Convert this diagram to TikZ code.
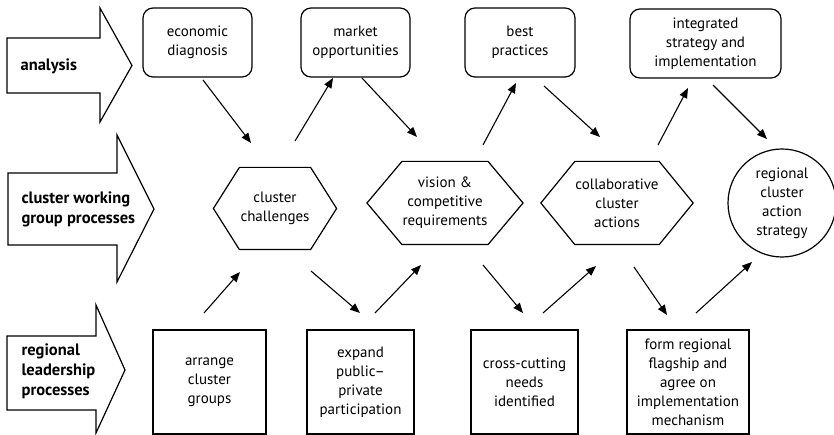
\documentclass[tikz,border=0pt]{standalone}
\usepackage{fontspec}
\setmainfont{PT Sans}
\usetikzlibrary{arrows.meta}
\newcommand\hexframe[2]{%
  \draw (#1.north west) -- (#1.north east) -- ([xshift=#2]#1.east)
    -- (#1.south east) -- (#1.south west) -- ([xshift=-#2]#1.west) -- cycle;}
\begin{document}
\begin{tikzpicture}[x=1pt,y=-1pt,
  line width=1.2pt,
  every node/.style={font=\fontsize{15}{19}\selectfont, align=center, inner sep=0pt},
  band/.style={draw, line join=miter},
  bandlabel/.style={anchor=west, align=left, font=\fontsize{16.5}{20}\selectfont\bfseries},
  roundbox/.style={draw, rounded corners=10pt, minimum height=69pt},
  squarebox/.style={draw, minimum height=104pt},
  hexbox/.style={draw=none},
  link/.style={-{Triangle[length=10pt,width=8pt]}, line width=1.1pt}]
\useasboundingbox (0,0) rectangle (834,435);

% phase bands
\draw[band] (7,38) -- (100,38) -- (100,8) -- (132,65.5) -- (100,122) -- (100,93) -- (7,93) -- cycle;
\draw[band] (8,173) -- (117,173) -- (117,135) -- (154,209) -- (117,282) -- (117,245) -- (8,245) -- cycle;
\draw[band] (7,336) -- (96,336) -- (96,305) -- (125,370) -- (96,433) -- (96,410) -- (7,410) -- cycle;
\node[bandlabel] (lanal) at (20,66) {analysis};
\node[bandlabel] (lwork) at (21,209) {cluster working\\group processes};
\node[bandlabel] (llead) at (21,371) {regional\\leadership\\processes};

% analysis row
\node[roundbox, minimum width=109pt] (econ) at (197.5,42.5) {economic\\diagnosis};
\node[roundbox, minimum width=109pt] (market) at (355.5,42.5) {market\\opportunities};
\node[roundbox, minimum width=110pt] (best) at (520,42.5) {best\\practices};
\node[roundbox, minimum width=151pt] (integ) at (705.5,43.5) {integrated\\strategy and\\implementation};

% working group row
\node[hexbox, minimum width=70pt, minimum height=81pt] (chall) at (275,208.5) {cluster\\challenges};
\hexframe{chall}{26pt}
\node[hexbox, minimum width=80pt, minimum height=82pt] (vision) at (445,203) {vision \&\\competitive\\requirements};
\hexframe{vision}{35pt}
\node[hexbox, minimum width=80pt, minimum height=82pt] (collab) at (617,203) {collaborative\\cluster\\actions};
\hexframe{collab}{34pt}
\node[draw, circle, minimum size=108pt] (goal) at (782,203) {regional\\cluster\\action\\strategy};

% leadership row
\node[squarebox, minimum width=113pt] (arrange) at (209.5,382) {arrange\\cluster\\groups};
\node[squarebox, minimum width=107pt] (expand) at (360.5,382) {expand\\public–\\private\\participation};
\node[squarebox, minimum width=107pt] (cross) at (524.5,382) {cross-cutting\\needs\\identified};
\node[squarebox, minimum width=122pt] (form) at (688,382) {form regional\\flagship and\\agree on\\implementation\\mechanism};

% connector ends
\coordinate (a1s) at (203,80);  \coordinate (a1e) at (251,143);
\coordinate (a2s) at (295,141); \coordinate (a2e) at (333,78);
\coordinate (a3s) at (362,78);  \coordinate (a3e) at (417,137);
\coordinate (a4s) at (483,145); \coordinate (a4e) at (516,83);
\coordinate (a5s) at (544,86);  \coordinate (a5e) at (600,137);
\coordinate (a6s) at (658,145); \coordinate (a6e) at (688,88);
\coordinate (a7s) at (713,85);  \coordinate (a7e) at (767,139);
\coordinate (b1s) at (204,313); \coordinate (b1e) at (240,272);
\coordinate (b2s) at (311,271); \coordinate (b2e) at (360,313);
\coordinate (b3s) at (375,313); \coordinate (b3e) at (421,265);
\coordinate (b4s) at (483,265); \coordinate (b4e) at (523,313);
\coordinate (b5s) at (543,313); \coordinate (b5e) at (596,266);
\coordinate (b6s) at (634,267); \coordinate (b6e) at (667,315);
\coordinate (b7s) at (696,313); \coordinate (b7e) at (752,262);

\foreach \k in {a1,a2,a3,a4,a5,a6,a7,b1,b2,b3,b4,b5,b6,b7}
  \draw[link] (\k s) -- (\k e);
\end{tikzpicture}
\end{document}
